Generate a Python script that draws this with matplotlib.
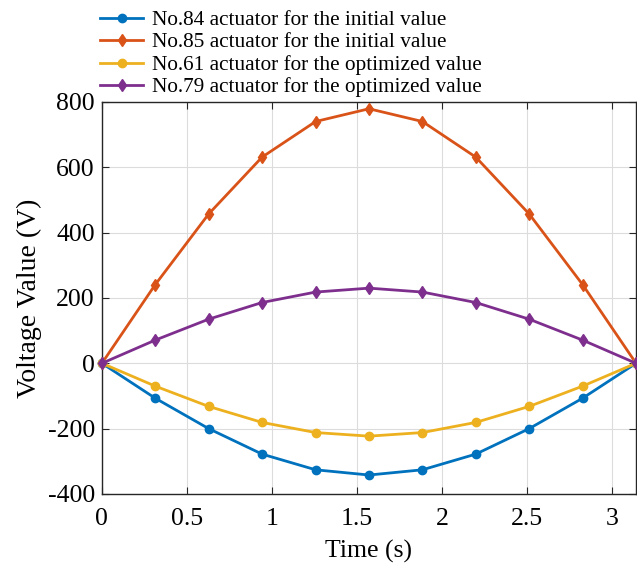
import matplotlib
matplotlib.use("Agg")
import matplotlib.pyplot as plt

t = [0, 0.314, 0.628, 0.942, 1.257, 1.571, 1.885, 2.199, 2.513, 2.827, 3.1416]
no84 = [0, -107, -200, -278, -326, -342, -326, -278, -200, -107, 0]
no85 = [0, 241, 457, 631, 740, 779, 740, 631, 457, 241, 0]
no61 = [0, -70, -132, -181, -212, -223, -212, -181, -132, -70, 0]
no79 = [0, 71, 135, 186, 218, 230, 218, 186, 135, 71, 0]
labels = ["No.84 actuator for the initial value",
          "No.85 actuator for the initial value",
          "No.61 actuator for the optimized value",
          "No.79 actuator for the optimized value"]
xticks = [0, 0.5, 1, 1.5, 2, 2.5, 3]
xticklabels = ["0", "0.5", "1", "1.5", "2", "2.5", "3"]
yticks = [-400, -200, 0, 200, 400, 600, 800]

plt.rcParams['font.family'] = ['Liberation Serif', 'DejaVu Serif']
plt.rcParams['axes.unicode_minus'] = False
fig = plt.figure(figsize=(6.37, 5.63), dpi=100)
ax = fig.add_axes([0.160, 0.1226, 0.8385, 0.6964])

colors = ['#0072BD', '#D95319', '#EDB120', '#7E2F8E']
series = [no84, no85, no61, no79]
markers = ['o', 'd', 'o', 'd']
sizes = [6, 6.5, 6, 6.5]
handles = []
for s, c, m, ms, lab in zip(series, colors, markers, sizes, labels):
    h, = ax.plot(t, s, color=c, marker=m, markersize=ms, linewidth=2, label=lab, clip_on=False, zorder=3)
    handles.append(h)

ax.set_xlim(0, 3.1416)
ax.set_ylim(-400, 800)
ax.set_xticks(xticks)
ax.set_xticklabels(xticklabels)
ax.set_yticks(yticks)
ax.tick_params(direction='in', labelsize=18.5, length=5, color='#262626', top=True, right=True)
ax.tick_params(axis='x', pad=10)
ax.tick_params(axis='y', pad=5)
ax.grid(True, color='#dcdcdc', linewidth=0.8)
ax.set_axisbelow(True)
for sp in ax.spines.values():
    sp.set_color('#262626')
    sp.set_linewidth(1.0)
ax.set_xlabel("Time (s)", fontsize=18.5, labelpad=7)
ax.set_ylabel("Voltage Value (V)", fontsize=20, labelpad=4)

fig.legend(handles=handles, loc='upper left', bbox_to_anchor=(0.144, 0.997),
           frameon=False, fontsize=15.3, handlelength=2.03, handletextpad=0.42,
           labelspacing=0.12, borderaxespad=0.0)

fig.savefig("out.png", dpi=100)
